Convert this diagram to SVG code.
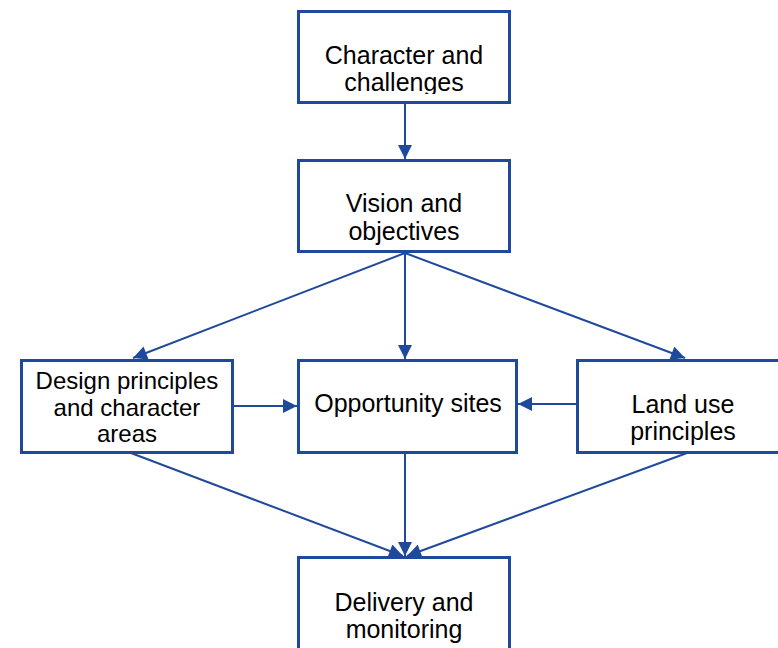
<svg xmlns="http://www.w3.org/2000/svg" width="778" height="648" viewBox="0 0 778 648">
<style>
.box{fill:#fff;stroke:#1f4a9c;stroke-width:3}
.t{font-family:"Liberation Sans",Arial,sans-serif;font-size:25px;fill:#000;text-anchor:middle}
.s{font-size:24px}
.c{stroke:#1f4a9c;stroke-width:2;fill:none;marker-end:url(#ah)}
</style>
<defs>
<marker id="ah" viewBox="0 0 10 10" refX="10" refY="5" markerWidth="7.5" markerHeight="7" markerUnits="strokeWidth" orient="auto">
<path d="M0,0 L10,5 L0,10 Z" fill="#1f4a9c"/>
</marker>
<clipPath id="clipTop"><rect x="300" y="12" width="208" height="82"/></clipPath>
</defs>
<rect width="778" height="648" fill="#fff"/>
<g id="connectors">
<line class="c" x1="405" y1="103" x2="405" y2="159"/>
<line class="c" x1="405" y1="253" x2="133" y2="358"/>
<line class="c" x1="405" y1="253" x2="405" y2="359"/>
<line class="c" x1="405" y1="253" x2="685" y2="358"/>
<line class="c" x1="232" y1="406" x2="297" y2="406"/>
<line class="c" x1="577" y1="404" x2="518" y2="404"/>
<line class="c" x1="131" y1="453" x2="403" y2="556"/>
<line class="c" x1="405" y1="453" x2="405" y2="556"/>
<line class="c" x1="687" y1="453" x2="407" y2="556"/>
</g>
<g id="character">
<rect class="box" x="298.5" y="11.5" width="211" height="91"/>
<g clip-path="url(#clipTop)">
<text class="t" x="404" y="64">Character and</text>
<text class="t" x="404" y="91">challenges</text>
</g>
</g>
<g id="vision">
<rect class="box" x="298.5" y="160.5" width="211" height="91"/>
<text class="t" x="404" y="212">Vision and</text>
<text class="t" x="404" y="240">objectives</text>
</g>
<g id="design">
<rect class="box" x="21.5" y="360.5" width="211" height="92"/>
<text class="t s" x="127" y="389">Design principles</text>
<text class="t s" x="127" y="416">and character</text>
<text class="t s" x="127" y="442">areas</text>
</g>
<g id="opportunity">
<rect class="box" x="298.5" y="360.5" width="218" height="92"/>
<text class="t" x="408" y="412">Opportunity sites</text>
</g>
<g id="landuse">
<rect class="box" x="577.5" y="360.5" width="210" height="92"/>
<text class="t" x="683" y="413">Land use</text>
<text class="t" x="683" y="440">principles</text>
</g>
<g id="delivery">
<rect class="box" x="298.5" y="557.5" width="211" height="100"/>
<text class="t" x="404" y="611">Delivery and</text>
<text class="t" x="404" y="638">monitoring</text>
</g>
</svg>
